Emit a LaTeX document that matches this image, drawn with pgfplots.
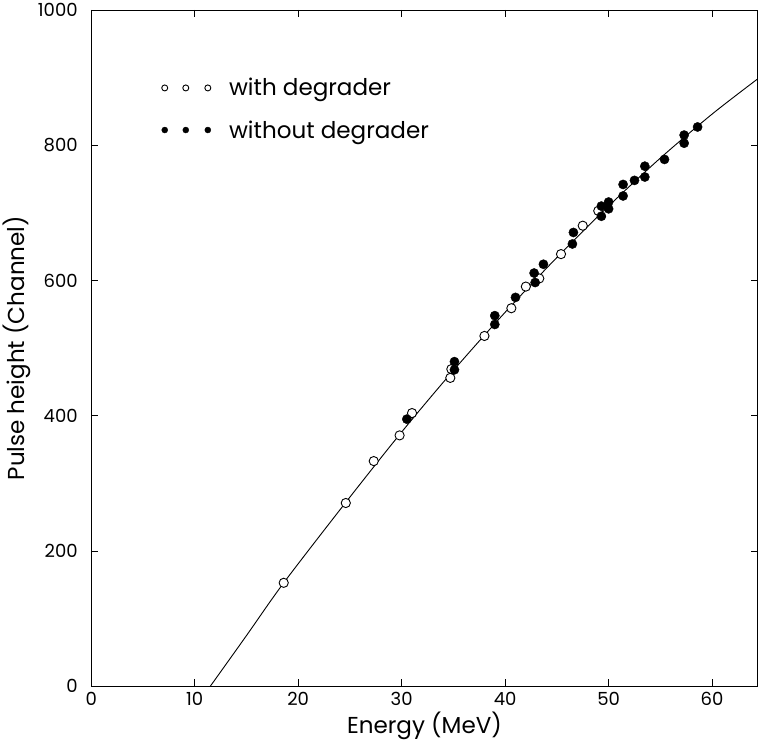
\documentclass[border=0pt]{standalone}
\usepackage{pgfplots}
\pgfplotsset{compat=1.18}
\usepackage{fontspec}
\setmainfont{Poppins}
\begin{document}
\begin{tikzpicture}
\begin{axis}[
 scale only axis, width=665pt, height=675pt,
 xmin=0, xmax=64.4, ymin=0, ymax=1000,
 xtick={0,10,...,60}, ytick={0,200,...,1000},
 tick align=inside, major tick length=7pt,
 tick style={black, line width=0.8pt},
 axis line style={line width=0.8pt},
 /pgf/number format/assume math mode=true,
 /pgf/number format/1000 sep={},
 ticklabel style={font=\fontsize{18}{20}\selectfont},
 yticklabel style={xshift=-10pt},
 xticklabel style={yshift=-2pt},
 label style={font=\fontsize{23}{26}\selectfont},
 xlabel={Energy (MeV)}, ylabel={Pulse height (Channel)},
 legend style={at={(axis cs:6.5,905)}, anchor=north west, draw=none, fill=none,
   font=\fontsize{23}{26}\selectfont, row sep=19pt},
 legend cell align=left,
 legend image code/.code={\path (-2pt,0pt) (62pt,0pt);\path[#1, only marks, mark size=3pt] plot coordinates {(0pt,0pt) (21pt,0pt) (43pt,0pt)};},
]
\addplot[black, line width=0.9pt, smooth, forget plot] coordinates {
(11.5,0) (15,75) (18.6,153) (24.6,272) (30,376) (35,467) (40,553) (45,634) (50,710) (55,781) (60,846) (64.4,898)
};
\addplot[only marks, mark=*, mark size=4.6pt, mark options={draw=black, fill=white, line width=0.9pt}] coordinates {
(18.6,153) (24.6,271) (27.3,333) (29.8,371) (31.0,404) (34.7,456) (34.8,469) (38.0,518) (40.6,559) (42.0,591) (43.3,603) (45.4,639) (47.5,681) (49.0,703)
};
\addlegendentry{with degrader}
\addplot[only marks, mark=*, mark size=4.6pt, mark options={draw=black, fill=black}] coordinates {
(30.5,395) (35.1,468) (35.1,480) (39.0,548) (39.0,535) (41.0,575) (42.8,611) (42.9,597) (43.7,624) (46.5,654) (46.6,671) (49.3,695) (49.3,710) (50.0,716) (50.0,706) (51.4,742) (51.4,725) (52.5,748) (53.5,769) (53.5,753) (55.4,779) (57.3,815) (57.3,803) (58.6,827)
};
\addlegendentry{without degrader}
\end{axis}
\end{tikzpicture}
\end{document}
